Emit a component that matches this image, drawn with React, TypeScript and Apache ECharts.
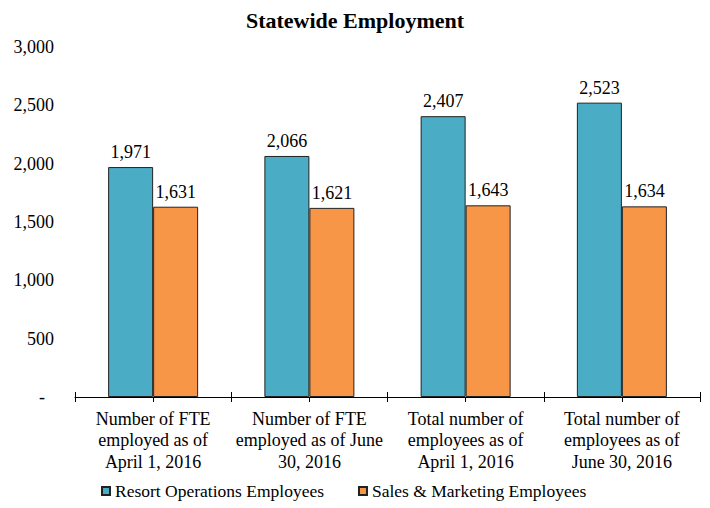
import React, { useEffect, useRef } from "react";
import * as echarts from "echarts";

const categories = [
  "Number of FTE\nemployed as of\nApril 1, 2016",
  "Number of FTE\nemployed as of June\n30, 2016",
  "Total number of\nemployees as of\nApril 1, 2016",
  "Total number of\nemployees as of\nJune 30, 2016",
];
const resortOps = [1971, 2066, 2407, 2523];
const salesMarketing = [1631, 1621, 1643, 1634];
const seriesNames = ["Resort Operations Employees", "Sales & Marketing Employees"];
const yTicks = { min: 0, max: 3000, interval: 500 };

const FONT = "'Liberation Serif', 'Times New Roman', serif";

const fmt = (v: number) => v.toLocaleString("en-US");

export default function App() {
  const ref = useRef<HTMLDivElement>(null);
  useEffect(() => {
    if (!ref.current) return;
    const chart = echarts.init(ref.current, undefined, { renderer: "svg" });
    const labelStyle = {
      show: true,
      position: "top" as const,
      distance: 6,
      color: "#000",
      fontFamily: FONT,
      fontSize: 18,
      formatter: (p: any) => fmt(p.value),
    };
    chart.setOption({
      animation: false,
      backgroundColor: "#fff",
      textStyle: { fontFamily: FONT, color: "#000" },
      title: {
        text: "Statewide Employment",
        left: "center",
        top: 4,
        textStyle: { fontFamily: FONT, fontSize: 22, fontWeight: "bold", color: "#000" },
      },
      legend: {
        bottom: 3,
        left: 96,
        itemWidth: 8,
        itemHeight: 8,
        itemGap: 34,
        icon: "rect",
        textStyle: { fontFamily: FONT, fontSize: 17.5, color: "#000", padding: [0, 0, 0, 0] },
        data: seriesNames,
      },
      grid: { left: 75, right: 10, top: 47, bottom: 111, containLabel: false },
      xAxis: [
        {
          type: "category",
          data: categories,
          axisLine: { show: true, lineStyle: { color: "#000", width: 1 } },
          axisTick: { show: true, length: 5, lineStyle: { color: "#000" } },
          axisLabel: {
            fontFamily: FONT,
            fontSize: 18,
            color: "#000",
            lineHeight: 21.5,
            margin: 11,
            interval: 0,
          },
        },
        {
          type: "category",
          data: categories,
          position: "bottom",
          axisLine: { show: false },
          axisTick: { show: true, inside: true, length: 5, lineStyle: { color: "#000" } },
          axisLabel: { show: false },
        },
        {
          type: "category",
          data: categories,
          position: "bottom",
          axisLine: { show: false },
          axisTick: { show: true, alignWithLabel: true, length: 5, lineStyle: { color: "#000" } },
          axisLabel: { show: false },
        },
      ],
      yAxis: {
        type: "value",
        min: yTicks.min,
        max: yTicks.max,
        interval: yTicks.interval,
        axisLine: { show: false },
        axisTick: { show: false },
        splitLine: { show: false },
        axisLabel: {
          fontFamily: FONT,
          fontSize: 18,
          color: "#000",
          margin: 21,
          formatter: (v: number) => (v === 0 ? "{d|-}" : fmt(v)),
          rich: { d: { fontFamily: FONT, fontSize: 18, color: "#000", padding: [0, 9, 0, 0] } },
        },
      },
      series: [
        {
          name: seriesNames[0],
          type: "bar",
          data: resortOps,
          barWidth: 45,
          barGap: "0%",
          itemStyle: { color: "#4BACC6", borderColor: "#222", borderWidth: 1 },
          label: labelStyle,
        },
        {
          name: seriesNames[1],
          type: "bar",
          data: salesMarketing,
          barWidth: 45,
          barGap: "0%",
          itemStyle: { color: "#F79646", borderColor: "#222", borderWidth: 1 },
          label: labelStyle,
        },
      ],
    });
    return () => chart.dispose();
  }, []);
  return (
    <div
      ref={ref}
      style={{ position: "fixed", left: 0, top: 0, width: 710, height: 508, background: "#fff" }}
    />
  );
}
